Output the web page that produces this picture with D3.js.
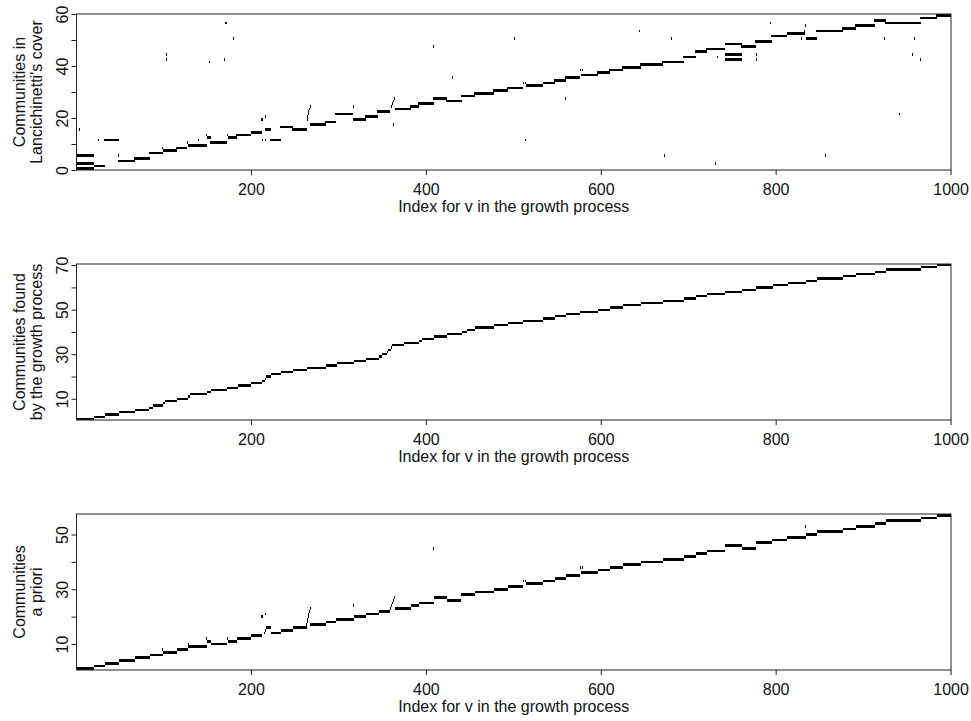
<!DOCTYPE html>
<html>
<head>
<meta charset="utf-8">
<script src="https://cdn.jsdelivr.net/npm/d3@7"></script>
<style>
  body { margin: 0; background: #fff; }
  svg text { font-family: "Liberation Sans", Arial, Helvetica, sans-serif; fill: #111; }
</style>
</head>
<body>
<svg id="chart" width="971" height="721"></svg>
<script>
// x axis (vertex index in the growth process)
const xTicks = [200, 400, 600, 800, 1000];
const xTitle = "Index for v in the growth process";

// panel 1 : Lancichinetti's cover, [community, first index, last index]
const coverSegments = [
  [1, 1, 20], [3, 1, 20], [6, 1, 20], [2, 21, 33], [12, 33, 49], [4, 49, 67],
  [5, 67, 84], [7, 84, 99], [8, 100, 115], [9, 115, 126], [10, 129, 149],
  [13, 150, 154], [11, 154, 172], [13, 174, 183], [14, 183, 200], [15, 200, 212],
  [16, 216, 222], [12, 222, 234], [17, 234, 247], [16, 247, 264], [18, 268, 285],
  [19, 285, 297], [22, 297, 316], [20, 317, 331], [21, 331, 345], [23, 345, 359],
  [24, 365, 382], [25, 382, 392], [26, 392, 409], [28, 409, 424], [27, 424, 441],
  [29, 441, 456], [30, 456, 477], [31, 477, 493], [32, 493, 511], [33, 515, 534],
  [34, 534, 547], [35, 547, 560], [36, 560, 576], [37, 579, 596], [38, 596, 610],
  [39, 610, 625], [40, 625, 645], [41, 645, 671], [42, 671, 695], [44, 695, 708],
  [46, 708, 721], [47, 721, 742], [49, 742, 761], [45, 742, 761], [43, 742, 761],
  [48, 761, 777], [50, 777, 795], [52, 795, 813], [53, 813, 833], [51, 835, 847],
  [54, 847, 876], [55, 876, 891], [56, 891, 913], [58, 913, 926], [57, 926, 966],
  [59, 966, 984], [60, 984, 1000]
];
// isolated memberships, [community, index]
const coverPoints = [
  [16, 4], [12, 26], [6, 49], [9, 99], [11, 127], [12, 140], [14, 149], [14, 173],
  [57, 171], [57, 172], [51, 180], [45, 103], [43, 103], [42, 152], [43, 170],
  [12, 213], [12, 216], [20, 212], [20, 213], [21, 217],
  [20, 265], [21, 265], [22, 266], [23, 266], [24, 267], [25, 268], [25, 317],
  [25, 361], [26, 362], [27, 363], [28, 364], [18, 363],
  [48, 409], [36, 430], [51, 501], [34, 512], [34, 514], [12, 514], [28, 560],
  [39, 577], [39, 579], [37, 578], [54, 644], [51, 681], [6, 673], [44, 733],
  [3, 731], [45, 778], [43, 778], [57, 794], [53, 833], [54, 833], [56, 834],
  [51, 830], [51, 924], [51, 959], [45, 956], [43, 965], [22, 941], [6, 857]
];
const coverTicks = [0, 10, 20, 30, 40, 50, 60];
const coverLabels = [0, 20, 40, 60];

// panel 2 : communities found by the growth process
const growthSegments = [
  [1, 1, 20], [2, 21, 33], [3, 34, 49], [4, 50, 67], [5, 68, 83], [6, 84, 88],
  [7, 89, 99], [8, 100, 101], [9, 102, 115], [10, 116, 128], [11, 129, 130],
  [12, 131, 149], [13, 150, 154], [14, 155, 172], [15, 173, 185], [16, 186, 200],
  [17, 201, 212], [18, 213, 216], [19, 217, 217], [20, 218, 222], [21, 223, 234],
  [22, 235, 247], [23, 248, 264], [24, 265, 285], [25, 286, 298], [26, 299, 317],
  [27, 318, 331], [28, 332, 346], [29, 347, 349], [30, 350, 355], [31, 356, 356],
  [32, 357, 360], [33, 361, 361], [34, 362, 375], [35, 376, 392], [36, 393, 395],
  [37, 396, 409], [38, 410, 424], [39, 425, 441], [40, 442, 446], [41, 447, 456],
  [42, 457, 477], [43, 478, 493], [44, 494, 511], [45, 512, 534], [46, 535, 547],
  [47, 548, 560], [48, 561, 576], [49, 577, 596], [50, 597, 610], [51, 611, 625],
  [52, 626, 645], [53, 646, 671], [54, 672, 695], [55, 696, 708], [56, 709, 721],
  [57, 722, 742], [58, 743, 761], [59, 762, 777], [60, 778, 796], [61, 797, 814],
  [62, 815, 834], [63, 835, 847], [64, 848, 876], [65, 877, 891], [66, 892, 913],
  [67, 914, 926], [68, 927, 966], [69, 967, 984], [70, 985, 1000]
];
const growthPoints = [];
const growthTicks = [10, 20, 30, 40, 50, 60, 70];
const growthLabels = [10, 30, 50, 70];

// panel 3 : communities a priori
const aprioriSegments = [
  [1, 1, 20], [2, 21, 33], [3, 34, 49], [4, 50, 67], [5, 68, 84], [6, 85, 99],
  [7, 100, 115], [8, 116, 127], [9, 129, 149], [11, 150, 154], [10, 155, 172],
  [11, 174, 183], [12, 184, 200], [13, 201, 212], [16, 218, 222], [14, 223, 234],
  [15, 235, 247], [16, 248, 264], [17, 268, 285], [18, 286, 297], [19, 298, 317],
  [20, 318, 331], [21, 332, 346], [22, 347, 359], [23, 365, 382], [24, 383, 392],
  [25, 393, 409], [27, 410, 424], [26, 425, 440], [28, 441, 456], [29, 457, 477],
  [30, 478, 493], [31, 494, 511], [32, 515, 534], [33, 535, 547], [34, 548, 560],
  [35, 561, 576], [36, 579, 596], [37, 597, 610], [38, 611, 625], [39, 626, 645],
  [40, 646, 671], [41, 672, 695], [42, 696, 708], [43, 709, 721], [44, 722, 742],
  [46, 743, 761], [45, 762, 777], [47, 778, 795], [48, 796, 813], [49, 814, 834],
  [50, 835, 847], [51, 848, 876], [52, 877, 891], [53, 892, 913], [54, 914, 926],
  [55, 927, 966], [56, 967, 984], [57, 985, 1000]
];
const aprioriPoints = [
  [8, 99], [10, 128], [12, 149], [12, 173], [20, 212], [20, 213], [21, 217],
  [14, 215], [15, 216], [17, 264], [18, 265], [19, 265], [20, 266], [21, 266],
  [22, 267], [23, 268], [24, 317], [23, 360], [24, 361], [25, 362], [26, 363],
  [27, 364], [45, 409], [33, 512], [33, 514], [38, 577], [38, 579], [36, 578],
  [53, 834]
];
const aprioriTicks = [10, 20, 30, 40, 50];
const aprioriLabels = [10, 30, 50];

const panels = [
  { title: ["Communities in", "Lancichinetti's cover"], segments: coverSegments,
    points: coverPoints, yDomain: [0, 60], ticks: coverTicks, labels: coverLabels, shift: 0.5 },
  { title: ["Communities found", "by the growth process"], segments: growthSegments,
    points: growthPoints, yDomain: [0.5, 70.5], ticks: growthTicks, labels: growthLabels, shift: 0 },
  { title: ["Communities", "a priori"], segments: aprioriSegments,
    points: aprioriPoints, yDomain: [0.5, 57.5], ticks: aprioriTicks, labels: aprioriLabels, shift: 0 }
];

const svg = d3.select("#chart");
const left = 76.5;
const right = 951;
const plotH = 156;
const fontSize = 16;

const x = d3.scaleLinear().domain([0.5, 1000.5]).range([left, right]);

panels.forEach((p, i) => {
  const top = 14 + i * 250;
  const bottom = top + plotH;
  const y = d3.scaleLinear().domain(p.yDomain).range([bottom, top]);
  const g = svg.append("g");

  // one cell row per community, rounded to whole pixels like a raster image
  const cellY = (r) => Math.round(y(r + 0.5 - p.shift));
  const cellH = (r) => Math.max(1, Math.round(y(r - 0.5 - p.shift)) - cellY(r));
  const cells = p.segments.concat(p.points.map(([r, v]) => [r, v, v]));

  g.append("g")
    .attr("shape-rendering", "crispEdges")
    .selectAll("rect")
    .data(cells)
    .join("rect")
    .attr("x", (d) => Math.round(x(d[1] - 0.5)))
    .attr("width", (d) => Math.max(1, Math.round(x(d[2] + 0.5)) - Math.round(x(d[1] - 0.5))))
    .attr("y", (d) => cellY(d[0]))
    .attr("height", (d) => cellH(d[0]))
    .attr("fill", "#000");

  g.append("rect")
    .attr("x", left)
    .attr("y", top)
    .attr("width", right - left)
    .attr("height", plotH)
    .attr("fill", "none")
    .attr("stroke", "#222")
    .attr("stroke-width", 1);

  const xAxis = g.append("g")
    .attr("transform", `translate(0,${bottom})`)
    .call(
      d3.axisBottom(x)
        .tickValues(xTicks)
        .tickSize(5)
        .tickPadding(9)
        .tickFormat(d3.format("d"))
    );
  xAxis.select(".domain").remove();
  xAxis.selectAll("line").attr("stroke", "#222");
  xAxis.selectAll("text").attr("font-size", fontSize).attr("fill", "#111");

  const yAxis = g.append("g")
    .attr("transform", `translate(${left},0)`)
    .call(
      d3.axisLeft(y)
        .tickValues(p.ticks)
        .tickSize(5)
        .tickFormat((d) => (p.labels.includes(d) ? d : ""))
    );
  yAxis.select(".domain").remove();
  yAxis.selectAll("line").attr("stroke", "#222");
  yAxis.selectAll("text")
    .attr("font-size", fontSize)
    .attr("fill", "#111")
    .attr("transform", "rotate(-90)")
    .attr("x", 0)
    .attr("y", -9)
    .attr("dy", 0)
    .attr("text-anchor", "middle");

  g.append("text")
    .attr("x", (left + right) / 2)
    .attr("y", bottom + 42)
    .attr("text-anchor", "middle")
    .attr("font-size", fontSize)
    .text(xTitle);

  const midY = (top + bottom) / 2;
  g.selectAll(".ytitle")
    .data(p.title)
    .join("text")
    .attr("class", "ytitle")
    .attr("transform", (d, k) => `translate(${25 + k * 17},${midY}) rotate(-90)`)
    .attr("text-anchor", "middle")
    .attr("font-size", fontSize)
    .text((d) => d);
});
</script>
</body>
</html>
